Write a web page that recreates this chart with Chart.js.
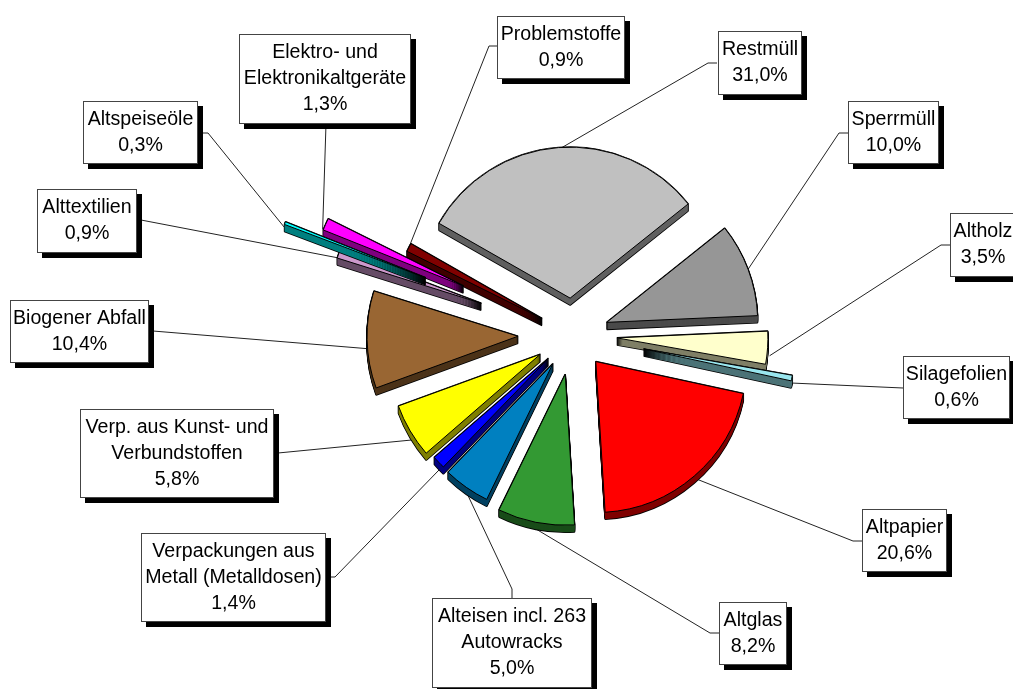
<!DOCTYPE html>
<html>
<head>
<meta charset="utf-8">
<style>
  html, body { margin: 0; padding: 0; background: #fff; overflow: hidden; }
  canvas { display: block; }
</style>
<script src="https://cdn.jsdelivr.net/npm/chart.js@4"></script>
</head>
<body>
<canvas id="pie" width="1013" height="689"></canvas>
<script>
/* Abfallaufkommen: explodierte 3D-Torte mit Beschriftungskästen */
const categories = ['Restmüll', 'Sperrmüll', 'Altholz', 'Silagefolien', 'Altpapier', 'Altglas',
  'Alteisen incl. 263\nAutowracks', 'Verpackungen aus\nMetall (Metalldosen)',
  'Verp. aus Kunst- und\nVerbundstoffen', 'Biogener Abfall', 'Alttextilien', 'Altspeiseöle',
  'Elektro- und\nElektronikaltgeräte', 'Problemstoffe'];
const values = [31.0, 10.0, 3.5, 0.6, 20.6, 8.2, 5.0, 1.4, 5.8, 10.4, 0.9, 0.3, 1.3, 0.9];
const colors = ['#C0C0C0', '#969696', '#FFFFCC', '#99E6EE', '#FF0000', '#339933', '#0080C0',
  '#0000FF', '#FFFF00', '#996633', '#CC99CC', '#00FFFF', '#FF00FF', '#800000'];

// Abstand jedes Stücks von der Mitte (px)
const explode = [37, 36, 44, 72, 35, 40, 35, 34, 38, 55, 97, 158, 120, 35];
// Zeichenreihenfolge, damit sich die schmalen Stücke richtig überdecken
const drawOrder = [0, 1, 2, 3, 4, 5, 6, 7, 8, 9, 13, 10, 12, 11];
const DEPTH = 7;
const SHADOW = 5;

// Kästen [links, oben, rechts, unten], Startpunkt der Linie am Kasten, Knick
const boxes = [
  [718, 31, 802, 95], [848, 101, 939, 164], [950, 213, 1016, 277], [903, 356, 1010, 419],
  [862, 509, 947, 572], [719, 602, 787, 665], [432, 598, 592, 688], [141, 533, 326, 622],
  [80, 409, 274, 498], [10, 300, 149, 363], [37, 189, 137, 253], [83, 101, 198, 164],
  [239, 34, 411, 124], [497, 16, 625, 79]
];
const leaderStart = [
  [717, 63], [848, 133], [950, 245], [903, 388], [862, 541], [719, 633], [512, 598], [330, 577],
  [278, 453], [153, 331], [141, 220], [202, 133], [326, 124], [497, 46]
];
const leaderKnee = [
  [708, 63], [839, 133], [941, 245], null, [853, 541], [710, 633], [512, 589], [335, 577],
  null, null, null, [208, 133], null, [489, 46]
];
// Feinkorrektur des Linienendes gegenüber der Bogenmitte
const leaderNudge = [
  [0, 2], [0, 0], [2, 8], [1, 5], [0, 2], [-11, 0], [-4, -4], [3, 5],
  [3, 9], [0, 9], [0, 4], [0, 5], [-3, 5], [0, 0]
];

function half(hex) {
  const n = parseInt(hex.slice(1), 16);
  const c = s => ((n >> s) & 255) >> 1;
  return `rgb(${c(16)},${c(8)},${c(0)})`;
}

function drawArc(ctx, arc, dx, dy, fill, stroke, width) {
  const ghost = Object.create(arc);
  ghost.options = Object.assign({}, arc.options, {
    backgroundColor: fill, borderColor: stroke, borderWidth: width, borderAlign: 'center', offset: 0
  });
  ctx.save();
  ctx.translate(dx, dy);
  arc.draw.call(ghost, ctx);
  ctx.restore();
}

function direction(arc) {
  const mid = (arc.startAngle + arc.endAngle) / 2;
  return [Math.cos(mid), Math.sin(mid)];
}

const explodedPie = {
  id: 'explodedPie',
  beforeDatasetDraw() { return false; },
  afterDatasetsDraw(chart) {
    const ctx = chart.ctx;
    const arcs = chart.getDatasetMeta(0).data;

    // Verbindungslinien
    ctx.strokeStyle = '#222';
    ctx.lineWidth = 1;
    arcs.forEach((arc, i) => {
      const [ux, uy] = direction(arc);
      const r = explode[i] + arc.outerRadius;
      ctx.beginPath();
      ctx.moveTo(leaderStart[i][0], leaderStart[i][1]);
      if (leaderKnee[i]) ctx.lineTo(leaderKnee[i][0], leaderKnee[i][1]);
      ctx.lineTo(arc.x + ux * r + leaderNudge[i][0], arc.y + uy * r + leaderNudge[i][1]);
      ctx.stroke();
    });

    // Tortenstücke mit Seitenwand
    drawOrder.forEach(i => {
      const arc = arcs[i];
      const [ux, uy] = direction(arc);
      const ox = ux * explode[i], oy = uy * explode[i];
      const side = half(colors[i]);
      for (let k = DEPTH; k >= 0; k--) drawArc(ctx, arc, ox, oy + k, '#000', '#000', 1.6);
      for (let k = DEPTH; k >= 0; k--) drawArc(ctx, arc, ox, oy + k, side, side, 0);
      drawArc(ctx, arc, ox, oy, colors[i], '#000', 1);
    });

    // Beschriftungskästen
    ctx.font = '19.6px "Liberation Sans", Arial, sans-serif';
    ctx.textAlign = 'center';
    ctx.textBaseline = 'middle';
    categories.forEach((name, i) => {
      const [l, t, r, b] = boxes[i];
      ctx.fillStyle = '#000';
      ctx.fillRect(l + SHADOW, t + SHADOW, r - l, b - t);
      ctx.fillStyle = '#fff';
      ctx.fillRect(l, t, r - l, b - t);
      ctx.strokeStyle = '#444';
      ctx.lineWidth = 1;
      ctx.strokeRect(l + 0.5, t + 0.5, r - l - 1, b - t - 1);

      const lines = name.split('\n').concat(values[i].toFixed(1).replace('.', ',') + '%');
      const cx = (l + r) / 2, cy = (t + b) / 2;
      ctx.fillStyle = '#000';
      lines.forEach((line, k) => {
        ctx.fillText(line, cx, cy + (k - (lines.length - 1) / 2) * 26);
      });
    });
  }
};

new Chart(document.getElementById('pie'), {
  type: 'pie',
  data: {
    labels: categories,
    datasets: [{ data: values, backgroundColor: colors, borderColor: '#000', borderWidth: 1, radius: 151 }]
  },
  options: {
    responsive: false,
    animation: false,
    rotation: -60.3,
    layout: { padding: { left: 133, top: 0, right: 0, bottom: 19 } },
    plugins: { legend: { display: false }, tooltip: { enabled: false } }
  },
  plugins: [explodedPie]
});
</script>
</body>
</html>
